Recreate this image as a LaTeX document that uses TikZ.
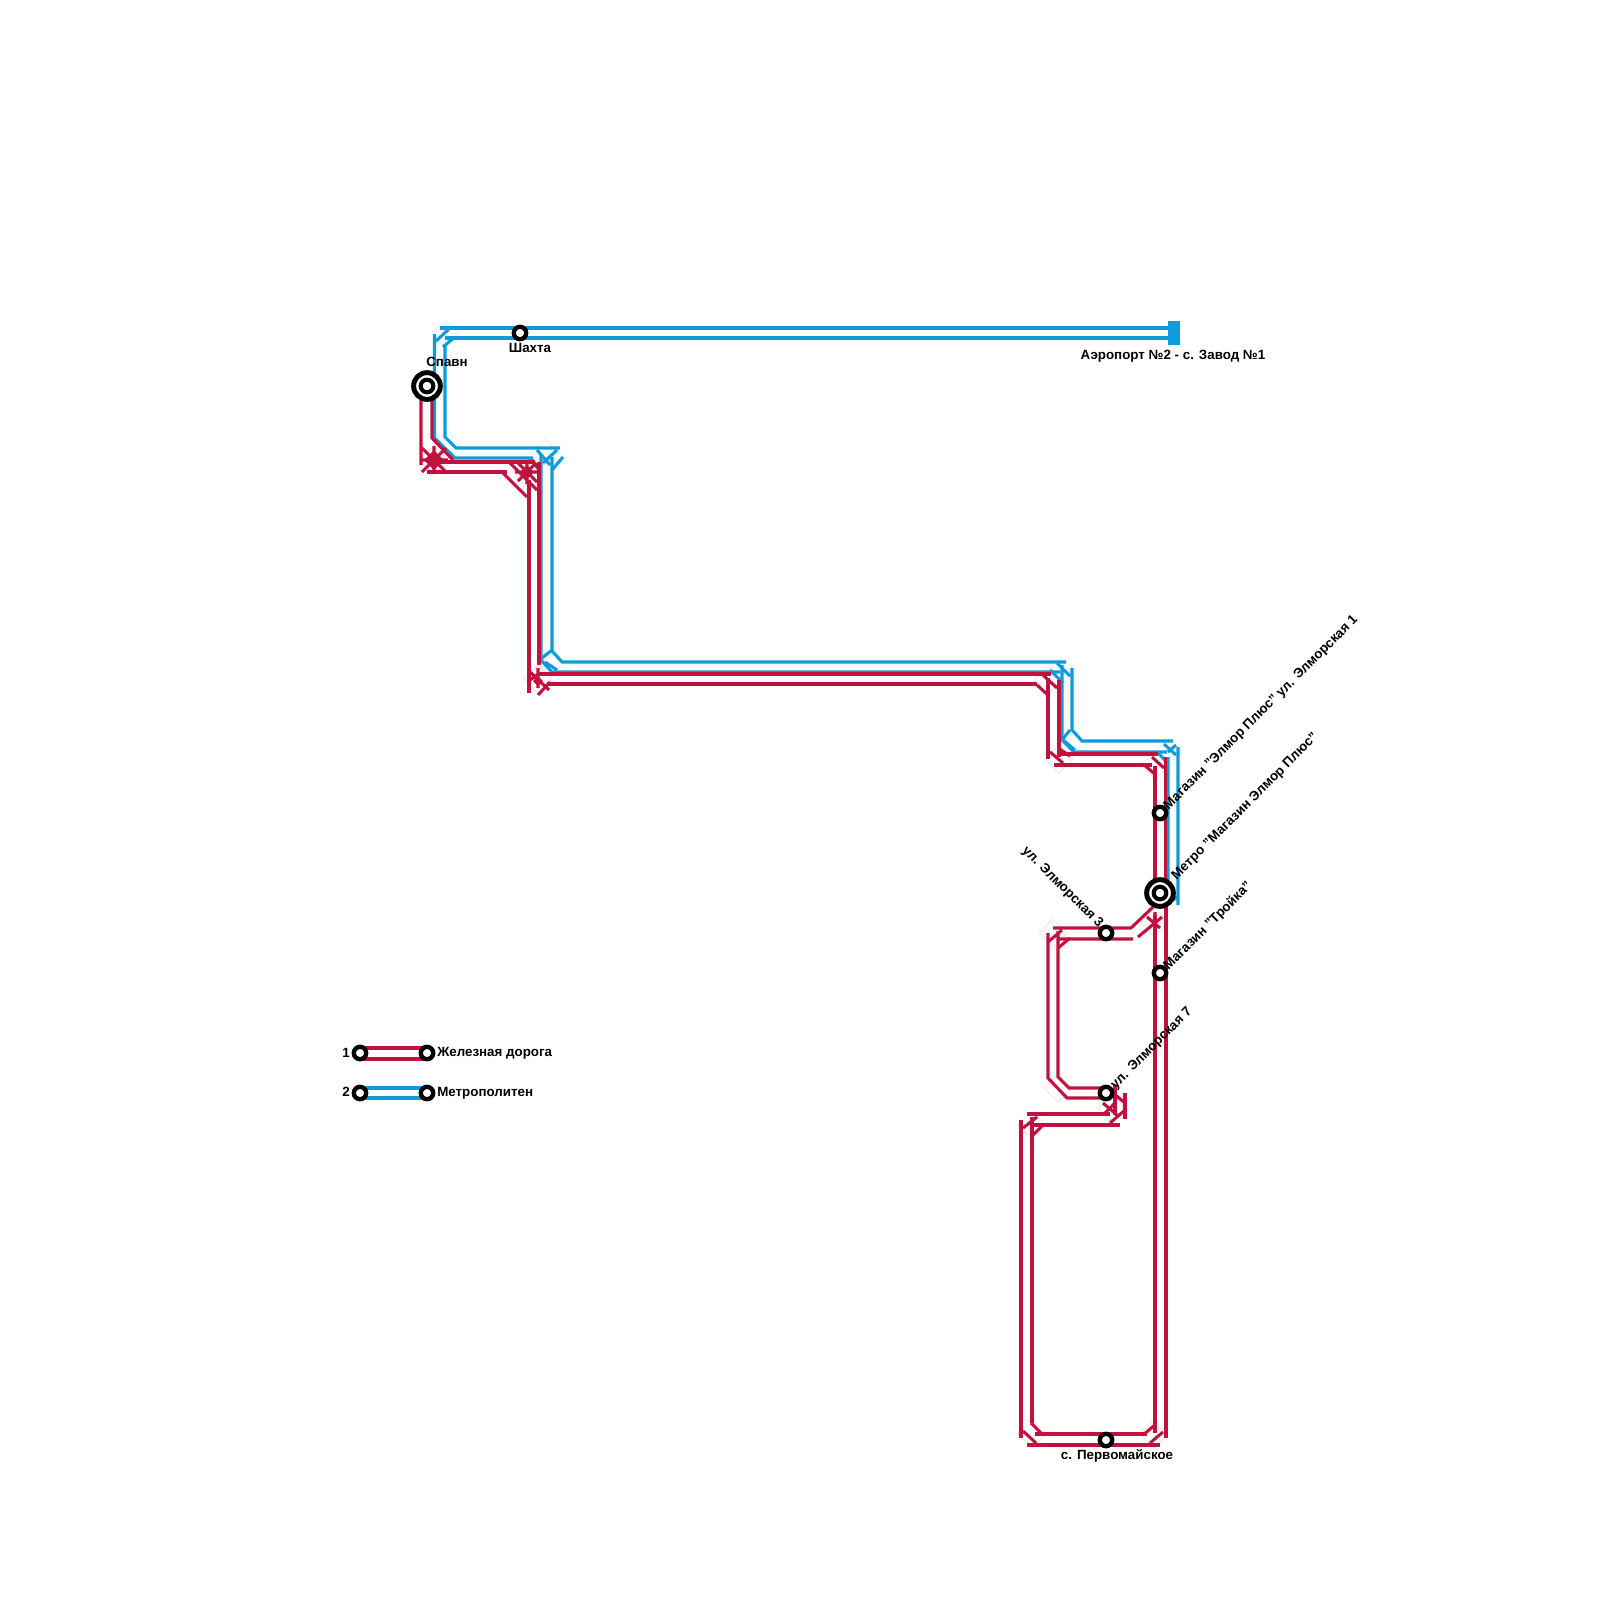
\documentclass[tikz,border=0pt]{standalone}
\usepackage{fontspec}
\setmainfont{Liberation Sans}
\definecolor{railred}{HTML}{C1123F}
\definecolor{metroblue}{HTML}{0E9BDB}
\tikzset{
  railline/.style={draw=railred, line width=2.2pt},
  metroline/.style={draw=metroblue, line width=2.2pt},
  faintline/.style={line width=0.5pt, opacity=0.15},
  stop/.style={circle, draw=black, fill=white, line width=3.1pt, minimum size=8.8pt, inner sep=0pt},
  bigstop/.style={circle, draw=black, fill=white, line width=3.5pt, minimum size=19pt, inner sep=0pt},
  hubdot/.style={circle, draw=black, fill=white, line width=2.9pt, minimum size=9pt, inner sep=0pt},
  lbl/.style={font=\fontsize{9.5}{10}\selectfont\bfseries, inner sep=0pt, text=black}
}
\begin{document}
\begin{tikzpicture}[x=0.025cm, y=-0.025cm]
\useasboundingbox (0,0) rectangle (1600,1600);

% pale corner marks
\foreach \x/\y in {445/333, 447/443, 545/452, 552/662, 1062/670, 1072/741, 1168/752}
  \draw[faintline, draw=metroblue] (\x-13,\y) -- (\x,\y-13) -- (\x+13,\y) -- (\x,\y+13) -- cycle;
\foreach \x/\y in {433/460, 527/472, 538/679, 1048/680, 1059/759, 1155/765, 1155/922, 1053/933, 1058/1088, 1112/1108, 1032/1125, 1032/1434, 1154/1434}
  \draw[faintline, draw=railred] (\x-14,\y) -- (\x,\y-14) -- (\x+14,\y) -- (\x,\y+14) -- cycle;

% metro
\draw[metroline] (440,328) -- (1170,328) (445,338) -- (1170,338);
\draw[metroline] (434.5,334) -- (434.5,438) -- (455,458) -- (533,458);
\draw[metroline] (445,344) -- (445,437) -- (456,448) -- (560,448);
\draw[metroline] (436,341) -- (449,329) (443,347) -- (455,337);
\draw[metroline] (537,450) -- (550,465) (557,450) -- (543,463) (563,457) -- (552,470) (529,458) -- (541,472);
\draw[metroline] (541,455) -- (541,660) -- (552,672) -- (1060,672);
\draw[metroline] (552,457) -- (552,651) -- (562,662) -- (1066,662);
\draw[metroline] (542,658) -- (552,650) (545,662) -- (557,670);
\draw[metroline] (1057,663) -- (1070,676) (1050,670) -- (1063,683);
\draw[metroline] (1062,665) -- (1062,740) -- (1074,752) -- (1167,752);
\draw[metroline] (1072,668) -- (1072,730) -- (1082,741) -- (1173,741);
\draw[metroline] (1070,730) -- (1062,740) (1063,740) -- (1075,750);
\draw[metroline] (1164,744) -- (1176,755) (1157,752) -- (1168,763) (1168,752) -- (1176,745);
\draw[metroline] (1168,757) -- (1168,880) (1178,747) -- (1178,905) (1172,901) -- (1178,896);
\fill[metroblue] (1168,321) rectangle (1180,345);

% rail, spawn corner
\draw[railline] (421,400) -- (421,465) (432,400) -- (432,438) -- (453,460);
\draw[railline] (428,462) -- (535,462) (427,472) -- (507,472);
\draw[railline] (422,448) -- (446,472) (422,472) -- (446,448) (434,446) -- (434,474) (420,460) -- (448,460);
\fill[railred] (434,450) -- (444,460) -- (434,470) -- (424,460) -- cycle;
\draw[railline] (510,463) -- (537,490) (503,473) -- (527,497) (532,460) -- (540,470);
\draw[railline] (515,472) -- (539,472) (527,460) -- (527,484) (518,481) -- (536,463);
\draw[railline] (517,462) -- (537,482);
\fill[railred] (527,465) -- (534,472) -- (527,479) -- (520,472) -- cycle;
\draw[railline] (529,480) -- (529,693) (539,462) -- (539,665);
\draw[railline] (530,672) -- (549,690) (538,695) -- (550,682) (538,668) -- (538,688) (530,680) -- (540,673);
\fill[railred] (538,676) -- (543,681) -- (538,686) -- (533,681) -- cycle;

% rail, long run
\draw[railline] (538,674) -- (1051,674) (547,684) -- (1037,684);
\draw[railline] (1043,675) -- (1057,688) (1037,685) -- (1049,696);
\draw[railline] (1048,678) -- (1048,759) (1059,680) -- (1059,757);
\draw[railline] (1050,752) -- (1063,763) (1058,748) -- (1070,756);
\draw[railline] (1060,754) -- (1158,754) (1054,765) -- (1152,765);
\draw[railline] (1152,757) -- (1164,768) (1143,764) -- (1156,775);
\draw[railline] (1155,766) -- (1155,880) (1165.5,757) -- (1165.5,880);

% rail, branch
\draw[railline] (1155,915) -- (1155,1433) (1166,905) -- (1166,1438);
\draw[railline] (1153,907) -- (1131,928) -- (1053,928) (1133,939) -- (1058,939);
\draw[railline] (1138,937) -- (1162,917) (1147,917) -- (1160,928) (1155,912) -- (1155,930);
\draw[railline] (1048,942) -- (1062,930) (1058,948) -- (1070,938);
\draw[railline] (1048,933) -- (1048,1078) -- (1067,1098) -- (1107,1098);
\draw[railline] (1058,931) -- (1058,1077) -- (1069,1088) -- (1107,1088);
\draw[railline] (1125,1093) -- (1125,1119) (1115,1085) -- (1115,1115);
\draw[railline] (1113,1093) -- (1125,1103) (1105,1113) -- (1115,1103) (1110,1123) -- (1125,1110) (1103,1103) -- (1117,1115);
\draw[railline] (1027,1114) -- (1110,1114) (1033,1125) -- (1120,1125);
\draw[railline] (1023,1128) -- (1037,1117) (1031,1137) -- (1043,1125);
\draw[railline] (1021,1120) -- (1021,1438) (1032,1117) -- (1032,1423);
\draw[railline] (1023,1431) -- (1036,1443) (1031,1423) -- (1043,1435);
\draw[railline] (1035,1434) -- (1147,1434) (1027,1445) -- (1160,1445);
\draw[railline] (1143,1435) -- (1156,1424) (1150,1443) -- (1163,1432);

% legend
\draw[railline] (360,1048) -- (427,1048) (360,1059) -- (427,1059);
\draw[metroline] (360,1088) -- (427,1088) (360,1098) -- (427,1098);

% stations
\node[bigstop] (spawn) at (427,386) {};
\node[hubdot] (spawnin) at (427,386) {};
\node[bigstop] (troika) at (1160,893) {};
\node[hubdot] (troikain) at (1160,893) {};
\node[stop] (shakhta) at (520,333) {};
\node[stop] (elmor) at (1160,813) {};
\node[stop] (magtr) at (1160,973) {};
\node[stop] (elm3) at (1106,933) {};
\node[stop] (elm7) at (1106,1093) {};
\node[stop] (pervo) at (1106,1440) {};
\node[stop] (leg1a) at (360,1053) {};
\node[stop] (leg1b) at (427,1053) {};
\node[stop] (leg2a) at (360,1093) {};
\node[stop] (leg2b) at (427,1093) {};

% labels
\node[lbl] (tspawn) at (447,362) {Спавн};
\node[lbl] (tshakhta) at (530,348) {Шахта};
\node[lbl] (tair) at (1173,356) {Аэропорт №2 - с. Завод №1};
\node[lbl] (tpervo) at (1117,1456) {с. Первомайское};
\node[lbl, rotate=45, anchor=west] (telmor) at (1166,808) {Магазин "Элмор Плюс" ул. Элморская 1};
\node[lbl, rotate=45, anchor=west] (ttroika) at (1174,878) {Метро "Магазин Элмор Плюс"};
\node[lbl, rotate=45, anchor=west] (tmagtr) at (1166,968) {Магазин "Тройка"};
\node[lbl, rotate=45, anchor=west] (telm7) at (1113,1087) {ул. Элморская 7};
\node[lbl, rotate=-45, anchor=east] (telm3) at (1101,926) {ул. Элморская 3};
\node[lbl, anchor=east] (tleg1n) at (350,1053) {1};
\node[lbl, anchor=east] (tleg2n) at (350,1092) {2};
\node[lbl, anchor=west] (tleg1) at (437,1053) {Железная дорога};
\node[lbl, anchor=west] (tleg2) at (437,1093) {Метрополитен};

\end{tikzpicture}
\end{document}
